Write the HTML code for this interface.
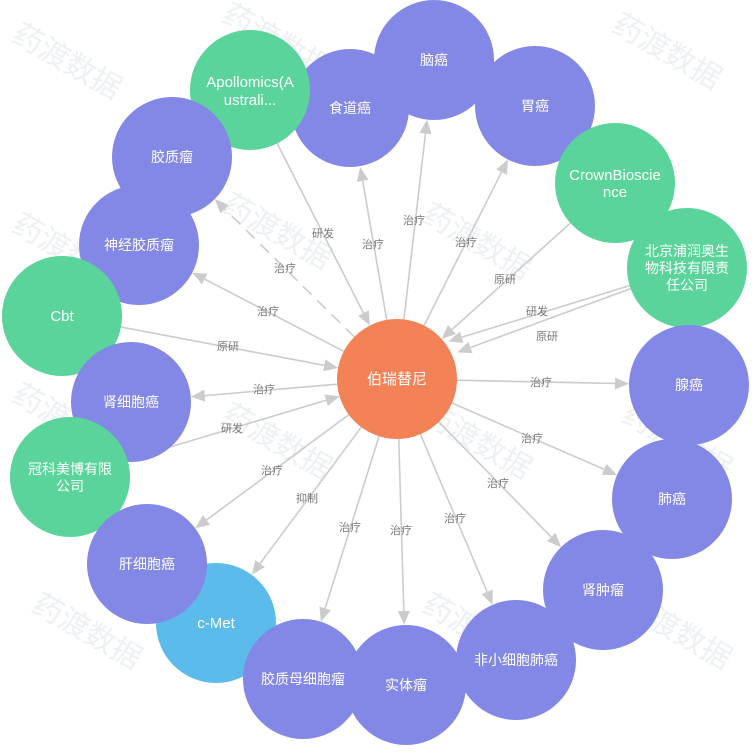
<!DOCTYPE html>
<html><head><meta charset="utf-8"><style>
body{margin:0;background:#fff;width:752px;height:748px;overflow:hidden}
svg{font-family:"Liberation Sans","Noto Sans CJK SC",sans-serif}
.wm{fill:#edf0f4;font-size:30px}
.lb{fill:#777;font-size:11px;text-anchor:middle}
.nt{fill:#fff;font-size:14px;text-anchor:middle}
</style></head><body>
<svg id="s" width="752" height="748" viewBox="0 0 752 748">
<g class="wm">
<text x="10" y="40" transform="rotate(30 10 40)">药渡数据</text>
<text x="220" y="20" transform="rotate(30 220 20)">药渡数据</text>
<text x="610" y="30" transform="rotate(30 610 30)">药渡数据</text>
<text x="10" y="230" transform="rotate(30 10 230)">药渡数据</text>
<text x="220" y="210" transform="rotate(30 220 210)">药渡数据</text>
<text x="420" y="220" transform="rotate(30 420 220)">药渡数据</text>
<text x="10" y="400" transform="rotate(30 10 400)">药渡数据</text>
<text x="220" y="420" transform="rotate(30 220 420)">药渡数据</text>
<text x="420" y="420" transform="rotate(30 420 420)">药渡数据</text>
<text x="620" y="420" transform="rotate(30 620 420)">药渡数据</text>
<text x="30" y="610" transform="rotate(30 30 610)">药渡数据</text>
<text x="220" y="610" transform="rotate(30 220 610)">药渡数据</text>
<text x="420" y="610" transform="rotate(30 420 610)">药渡数据</text>
<text x="620" y="610" transform="rotate(30 620 610)">药渡数据</text>
</g>
<g id="edges"></g>
<g class="lb">
<text x="323" y="237">研发</text><text x="373" y="248">治疗</text><text x="414" y="224">治疗</text>
<text x="466" y="246">治疗</text><text x="285" y="272">治疗</text><text x="268" y="315">治疗</text>
<text x="505" y="283">原研</text><text x="537" y="315">研发</text><text x="547" y="340">原研</text>
<text x="228" y="350">原研</text><text x="264" y="393">治疗</text><text x="541" y="386">治疗</text>
<text x="232" y="432">研发</text><text x="532" y="442">治疗</text><text x="272" y="474">治疗</text>
<text x="498" y="487">治疗</text><text x="307" y="502">抑制</text><text x="455" y="522">治疗</text>
<text x="350" y="531">治疗</text><text x="401" y="534">治疗</text>
</g>
<g>
<circle cx="350" cy="108" r="59" fill="#8387E6"/>
<circle cx="434" cy="60" r="60" fill="#8387E6"/>
<circle cx="250" cy="90" r="60" fill="#5AD49A"/>
<circle cx="535" cy="106" r="60" fill="#8387E6"/>
<circle cx="172" cy="157" r="60" fill="#8387E6"/>
<circle cx="615" cy="183" r="60" fill="#5AD49A"/>
<circle cx="139" cy="245" r="60" fill="#8387E6"/>
<circle cx="687" cy="268" r="60" fill="#5AD49A"/>
<circle cx="62" cy="316" r="60" fill="#5AD49A"/>
<circle cx="689" cy="385" r="60" fill="#8387E6"/>
<circle cx="131" cy="402" r="60" fill="#8387E6"/>
<circle cx="70" cy="477" r="60" fill="#5AD49A"/>
<circle cx="672" cy="499" r="60" fill="#8387E6"/>
<circle cx="216" cy="623" r="60" fill="#5BBBEA"/>
<circle cx="147" cy="564" r="60" fill="#8387E6"/>
<circle cx="603" cy="590" r="60" fill="#8387E6"/>
<circle cx="516" cy="660" r="60" fill="#8387E6"/>
<circle cx="303" cy="679" r="60" fill="#8387E6"/>
<circle cx="406" cy="685" r="60" fill="#8387E6"/>
<circle cx="397" cy="379" r="60" fill="#F48257"/>
</g>
<g class="nt">
<text x="350" y="113">食道癌</text><text x="434" y="65">脑癌</text>
<text x="250" y="87" style="font-size:15px">Apollomics(A</text><text x="250" y="105" style="font-size:15px">ustrali...</text>
<text x="535" y="111">胃癌</text><text x="172" y="162">胶质瘤</text>
<text x="615" y="180" style="font-size:15px">CrownBioscie</text><text x="615" y="197" style="font-size:15px">nce</text>
<text x="139" y="250">神经胶质瘤</text>
<text x="687" y="256">北京浦润奥生</text><text x="687" y="273">物科技有限责</text><text x="687" y="290">任公司</text>
<text x="62" y="321" style="font-size:15px">Cbt</text><text x="689" y="390">腺癌</text><text x="131" y="407">肾细胞癌</text>
<text x="70" y="474">冠科美博有限</text><text x="70" y="491">公司</text>
<text x="672" y="504">肺癌</text><text x="216" y="628" style="font-size:15px">c-Met</text><text x="147" y="569">肝细胞癌</text>
<text x="603" y="595">肾肿瘤</text><text x="516" y="665">非小细胞肺癌</text>
<text x="303" y="684">胶质母细胞瘤</text><text x="406" y="690">实体瘤</text>
<text x="397" y="384" style="font-size:15px">伯瑞替尼</text>
</g>
</svg>
<script>
var C=[397,379],R=60,g=document.getElementById('edges'),ns='http://www.w3.org/2000/svg';
function edge(a,b,dash){
 var dx=b[0]-a[0],dy=b[1]-a[1],L=Math.hypot(dx,dy),ux=dx/L,uy=dy/L;
 var ax=a[0]+ux*R,ay=a[1]+uy*R;
 var ex=b[0]-ux*R,ey=b[1]-uy*R;
 var bx=ex-ux*14,by=ey-uy*14;
 var l=document.createElementNS(ns,'line');
 l.setAttribute('x1',ax);l.setAttribute('y1',ay);l.setAttribute('x2',bx);l.setAttribute('y2',by);
 l.setAttribute('stroke','#ccc');l.setAttribute('stroke-width','1.6');
 if(dash)l.setAttribute('stroke-dasharray','12,8');g.appendChild(l);
 var p=document.createElementNS(ns,'polygon'),px=-uy,py=ux;
 p.setAttribute('points',ex+','+ey+' '+(bx+px*6)+','+(by+py*6)+' '+(bx-px*6)+','+(by-py*6));
 p.setAttribute('fill','#ccc');g.appendChild(p);
}
[[350,108],[434,60],[535,106],[139,245],[689,385],[131,402],[672,499],[147,564],[603,590],[216,623],[516,660],[303,679],[406,685]].forEach(function(t){edge(C,t)});
edge(C,[172,157],true);
edge([250,90],C);edge([615,183],C);edge([62,316],C);edge([70,477],C);
edge([687,268],[391,359]);edge([687,268],[401,373]);
</script>
</body></html>
